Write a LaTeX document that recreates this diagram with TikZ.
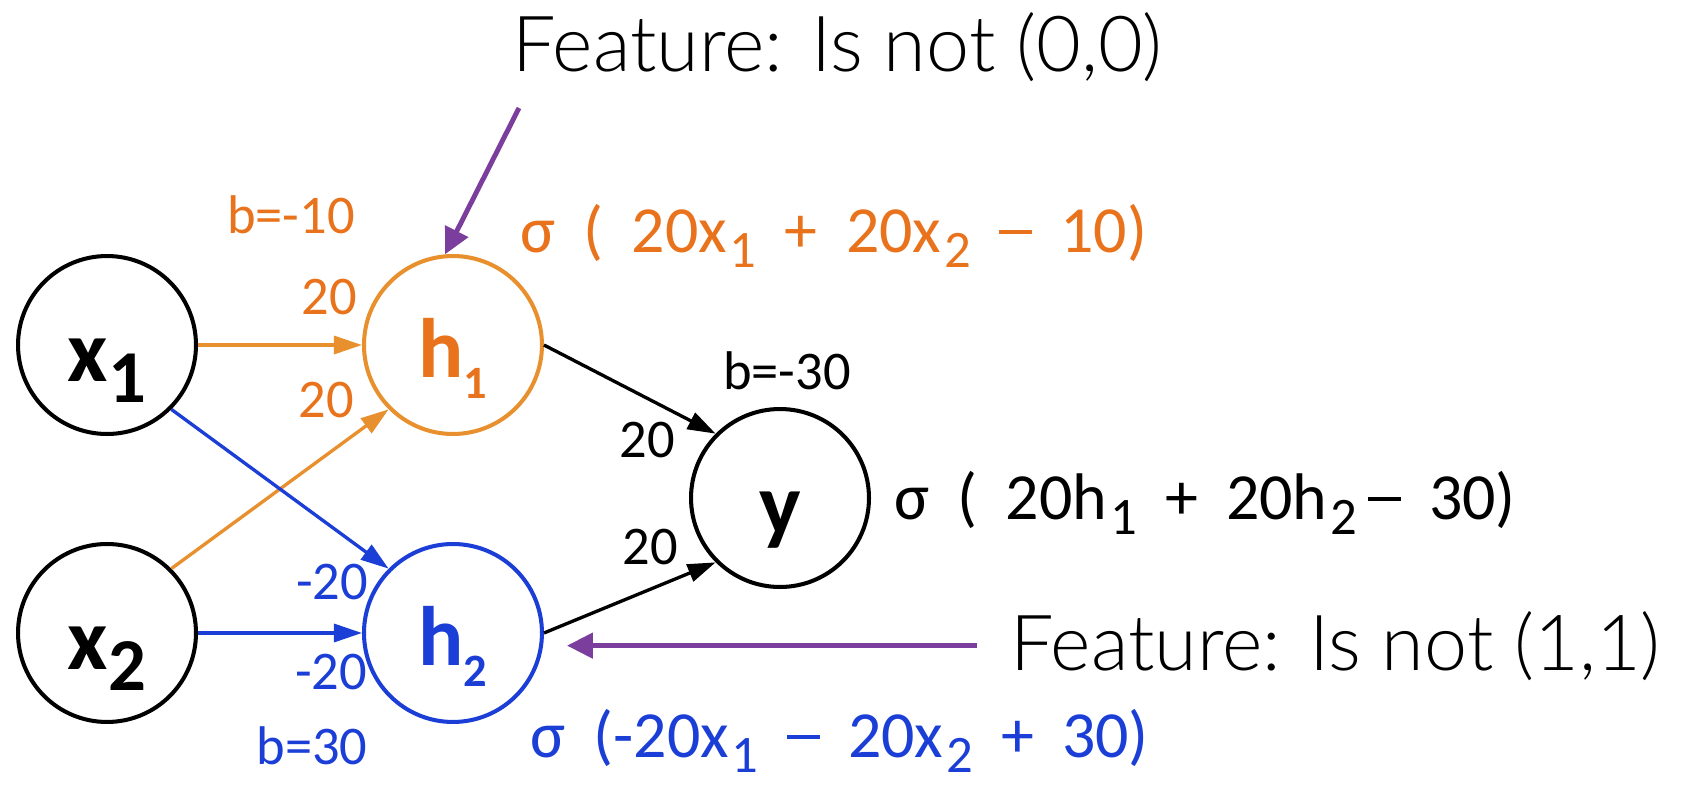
\documentclass[tikz,border=0pt]{standalone}
\usepackage{fontspec}
\setmainfont{Carlito}
\newfontfamily\formfont{Carlito}[WordSpace=1.9]
\newfontfamily\thinfont{Lato Light}
\usetikzlibrary{arrows.meta, positioning}
\definecolor{hidorange}{HTML}{E8902E}
\definecolor{txtorange}{HTML}{E8731C}
\definecolor{hidblue}{HTML}{1B3ED6}
\definecolor{notepurple}{HTML}{7B3E9C}
\newcommand\nsub[2][0.85]{\raisebox{-0.24em}{\scalebox{#1}{#2}}}
\newcommand\fsub[1]{\kern0.04em\raisebox{-0.24em}{\scalebox{0.8}{#1}}}
\newcommand\fdash{\rule[0.27em]{0.5em}{0.07em}}

\begin{document}
\begin{tikzpicture}[
    x=0.02cm, y=-0.02cm,
    node distance=2.12cm and 3.28cm,
    neuron/.style = {circle, draw, line width=2.3pt, minimum size=3.56cm, inner sep=0pt, text height=1.45cm, text depth=0pt, font=\fontsize{50}{50}\selectfont\bfseries},
    hidden/.style = {neuron, text height=1.32cm, font=\fontsize{48}{48}\selectfont\bfseries},
    weight/.style = {inner sep=0pt, font=\fontsize{31}{31}\selectfont},
    formula/.style = {inner sep=0pt, anchor=base west, font=\fontsize{37.5}{40}\formfont},
    feature/.style = {inner sep=0pt, anchor=base west, font=\fontsize{44}{46}\thinfont},
    link/.style = {-{Triangle[length=0.56cm, width=0.36cm]}, line width=1.9pt},
    pointer/.style = {-{Triangle[length=0.52cm, width=0.5cm]}, line width=2.8pt, notepurple}]

    \useasboundingbox (0,0) rectangle (1684,788);

    % input, hidden and output units
    \node[neuron] (x1) at (107,345) {x\nsub{1}};
    \node[neuron, below=of x1] (x2) {x\nsub{2}};
    \node[hidden, draw=hidorange, text=txtorange, right=of x1] (h1) {h\nsub[0.55]{1}};
    \node[hidden, draw=hidblue, text=hidblue, right=of x2] (h2) {h\nsub[0.55]{2}};
    \node[neuron] (y) at (780,498) {y};

    \draw[link, hidorange] (x1) -- (h1);
    \draw[link, hidorange] (x2.45) -- (h1.225);
    \draw[link, hidblue] (x1.-45) -- (h2.135);
    \draw[link, hidblue] (x2) -- (h2);
    \draw[link] (h1.east) -- (y.135);
    \draw[link] (h2.east) -- (y.225);

    % weights and biases
    \node[weight, txtorange] (b1) at (291,215) {b=-10};
    \node[weight, txtorange] (w11) at (329,297) {20};
    \node[weight, txtorange] (w21) at (326,400) {20};
    \node[weight, hidblue] (w12) at (332,582) {-20};
    \node[weight, hidblue] (w22) at (331,672) {-20};
    \node[weight, hidblue] (b2) at (312,746) {b=30};
    \node[weight] (b3) at (787,371) {b=-30};
    \node[weight] (v1) at (647,440) {20};
    \node[weight] (v2) at (650,547) {20};

    % unit outputs
    \node[formula, txtorange] (s1) at (520,252) {σ ( 20x\fsub{1} + 20x\fsub{2} \fdash{} 10)};
    \node[formula] (s3) at (894,519) {σ ( 20h\fsub{1} + 20h\fsub{2}\,\fdash{} 30)};
    \node[formula, hidblue] (s2) at (530,757) {σ (-20x\fsub{1} \fdash{} 20x\fsub{2} + 30)};

    % what the hidden units detect
    \node[feature] (f1) at (512,71) {Feature: Is not (0,0)};
    \node[feature] (f2) at (1010,670) {Feature: Is not (1,1)};
    \coordinate (tail1) at (519,108);
    \draw[pointer] (tail1) -- (h1.95);
    \draw[pointer, shorten <=0.66cm, shorten >=0.46cm] (f2.west) -- (f2.west -| h2.east);

\end{tikzpicture}
\end{document}
